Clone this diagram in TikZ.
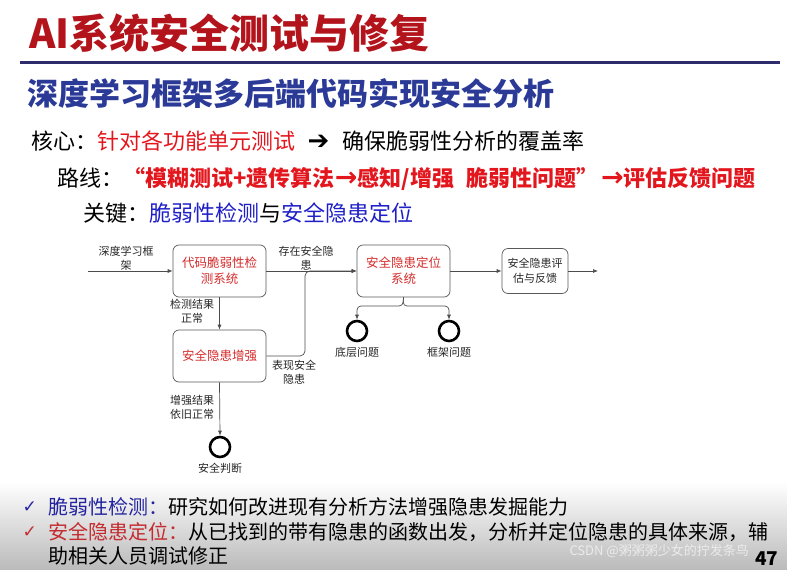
\documentclass[tikz,border=0pt]{standalone}
\usepackage{fontspec}
\setmainfont{Noto Sans CJK SC}
\newfontfamily\symf{DejaVu Sans}
\usetikzlibrary{arrows.meta}

\definecolor{titlered}{HTML}{B3141C}
\definecolor{subblue}{HTML}{2B3A97}
\definecolor{rulenavy}{HTML}{2D2B6B}
\definecolor{hired}{HTML}{E3161E}
\definecolor{keyblue}{HTML}{1F1FC8}
\definecolor{boxred}{HTML}{D42A2A}
\definecolor{notered}{HTML}{C42A2E}
\definecolor{noteblue}{HTML}{2424A0}

\newcommand{\bigarr}{{\symf\bfseries\fontsize{26}{24}\selectfont ➔}}
\newcommand{\redarr}{{\symf\bfseries\fontsize{27}{24}\selectfont →}}

\begin{document}
\begin{tikzpicture}[x=1pt, y=-1pt,
    box/.style={draw=black!65, rounded corners=6pt, line width=0.7pt, align=center, text=boxred,
                font=\fontsize{12.5}{16}\selectfont},
    lab/.style={align=center, font=\fontsize{11}{14}\selectfont, text=black!85},
    flow/.style={draw=black!70, line width=0.7pt, -{Latex[length=5pt,width=4pt]}},
    endpt/.style={circle, draw=black, line width=2.6pt, minimum size=20pt, inner sep=0pt}]
    \useasboundingbox (0,0) rectangle (787,570);

    % heading
    \node[anchor=west, text=titlered, font=\fontsize{40}{46}\selectfont\bfseries] (title) at (26,33) {AI系统安全测试与修复};
    \draw[rulenavy, line width=3pt] (20,62) -- (780,62);
    \node[anchor=west, text=subblue, font=\fontsize{31}{36}\selectfont\bfseries] (sub) at (24,94) {深度学习框架多后端代码实现安全分析};

    % key lines
    \node[anchor=west, font=\fontsize{22}{26}\selectfont] (core) at (28,141)
        {核心：\textcolor{hired}{针对各功能单元测试}\hspace{12pt}\bigarr\hspace{13pt}确保脆弱性分析的覆盖率};
    \node[anchor=west, font=\fontsize{22}{26}\selectfont] (route) at (54,179)
        {路线：\textcolor{hired}{\bfseries“模糊测试+遗传算法\redarr 感知/增强\hspace{12pt}脆弱性问题”\hspace{3pt}\redarr 评估反馈问题}};
    \node[anchor=west, font=\fontsize{22}{26}\selectfont] (key) at (80,213)
        {关键：\textcolor{keyblue}{脆弱性检测}与\textcolor{keyblue}{安全隐患定位}};

    % flow diagram
    \node[box, minimum width=93pt, minimum height=52pt] (detect) at (219.5,271) {代码脆弱性检\\测系统};
    \node[box, minimum width=93pt, minimum height=52pt] (boost) at (219.5,356) {安全隐患增强};
    \node[box, minimum width=93pt, minimum height=52pt] (locate) at (403.5,271) {安全隐患定位\\系统};
    \node[box, minimum width=66pt, minimum height=45pt, text=black!85, font=\fontsize{11}{15}\selectfont] (assess) at (535,271) {安全隐患评\\估与反馈};

    \node[endpt, label={[lab, yshift=-1pt]below:底层问题}] (low) at (357,331) {};
    \node[endpt, label={[lab, yshift=-1pt]below:框架问题}] (frame) at (449,331) {};
    \node[endpt, label={[lab, yshift=-1pt]below:安全判断}] (judge) at (220,447) {};

    \coordinate (src) at (88,271);
    \coordinate (out) at (598,271);
    \coordinate (join) at (305,271);
    \coordinate (split) at (403,306);

    \draw[flow] (src) -- (detect.west);
    \draw[flow] (detect.east) -- (locate.west);
    \draw[flow, rounded corners=5pt] (boost.east) -| (join) -- (locate.west);
    \draw[flow] (detect.south) -- (boost.north);
    \draw[flow] (boost.south) -- (judge.north);
    \draw[flow, rounded corners=4pt] (locate.south) -- (split) -| (low.north);
    \draw[flow, rounded corners=4pt] (locate.south) -- (split) -| (frame.north);
    \draw[flow] (locate.east) -- (assess.west);
    \draw[flow] (assess.east) -- (out);

    % connector labels
    \node[lab] at (126,258) {深度学习框\\架};
    \node[lab] at (306,258) {存在安全隐\\患};
    \node[lab] at (192,311) {检测结果\\正常};
    \node[lab] at (294,372) {表现安全\\隐患};
    \node[lab] at (192,407) {增强结果\\依旧正常};

    % notes
    \shade[top color=white, bottom color=black!27] (0,482) rectangle (787,570);
    \node[anchor=west, text=noteblue, font=\symf\fontsize{17}{20}\selectfont] (chk1) at (19,507) {✓};
    \node[anchor=west, font=\fontsize{20}{24}\selectfont] (note1) at (45,507)
        {\textcolor{noteblue}{脆弱性检测：}研究如何改进现有分析方法增强隐患发掘能力};
    \node[anchor=west, text=notered, font=\symf\fontsize{17}{20}\selectfont] (chk2) at (19,532) {✓};
    \node[anchor=west, font=\fontsize{20}{24}\selectfont] (note2) at (45,532)
        {\textcolor{notered}{安全隐患定位：}从已找到的带有隐患的函数出发，分析并定位隐患的具体来源，辅};
    \node[anchor=west, font=\fontsize{20}{24}\selectfont] (note3) at (45,556) {助相关人员调试修正};

    \node[anchor=west, text=white!92!black, font=\fontsize{13}{15}\selectfont] (mark) at (566,551) {CSDN @粥粥粥少女的拧发条鸟};
    \node[anchor=east, font=\fontsize{19}{20}\selectfont\bfseries] (page) at (782,559) {47};
\end{tikzpicture}
\end{document}
